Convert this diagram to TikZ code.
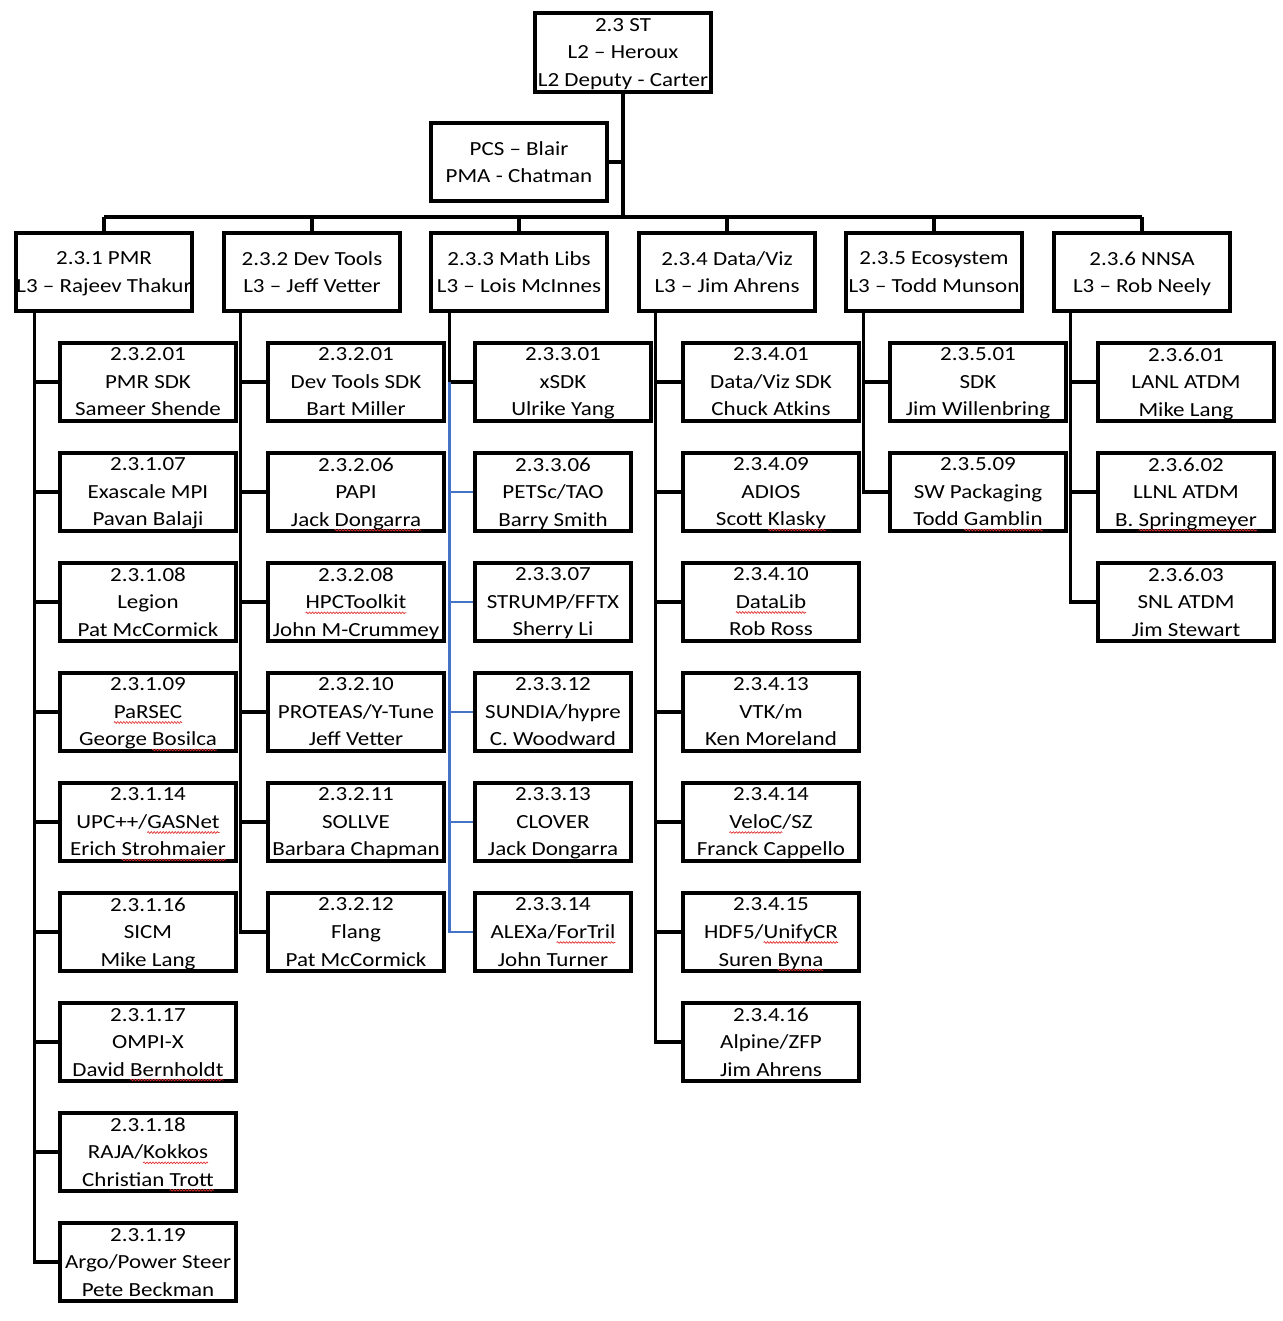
\documentclass[tikz,border=0pt]{standalone}
\usepackage{fontspec}
\setmainfont[FakeStretch=1.15]{Carlito}
\usetikzlibrary{decorations.pathmorphing}
\definecolor{wavered}{HTML}{E03030}
\definecolor{lineblue}{HTML}{4472C4}
\newdimen\sqw
\newcommand\sq[1]{\setbox0=\hbox{#1}\sqw=\wd0 \copy0\kern-\sqw
  \tikz[overlay,baseline=0pt,x=1pt,y=1pt]\draw[line width=0.7pt,wavered,decorate,
    decoration={snake,amplitude=0.8pt,segment length=3pt}] (0pt,-4pt) -- (\the\sqw,-4pt);\kern\sqw}
\begin{document}
\begin{tikzpicture}[x=1pt,y=-1pt,
  box/.style={draw,line width=3.5pt,minimum width=176pt,minimum height=78pt,inner sep=0pt,align=center,
    text depth=0pt,font=\fontsize{20}{27.5}\selectfont},
  nbox/.style={box,minimum width=156pt},
  conn/.style={line width=3.2pt},
  bconn/.style={line width=2.5pt,lineblue}]
\useasboundingbox (0,0) rectangle (1282,1321);
% top
\node[box,minimum height=79pt] (top) at (623,52.5) {2.3 ST\\L2 -- Heroux\\L2 Deputy - Carter};
\node[box] (pcs) at (519,162) {PCS -- Blair\\PMA - Chatman};
% L3
\node[box] (l31) at (104,272) {2.3.1 PMR\\L3 -- Rajeev Thakur};
\node[box] (l32) at (312,272) {2.3.2 Dev Tools\\L3 -- Jeff Vetter};
\node[box] (l33) at (519,272) {2.3.3 Math Libs\\L3 -- Lois McInnes};
\node[box] (l34) at (727,272) {2.3.4 Data/Viz\\L3 -- Jim Ahrens};
\node[box] (l35) at (934,272) {2.3.5 Ecosystem\\L3 -- Todd Munson};
\node[box] (l36) at (1142,272) {2.3.6 NNSA\\L3 -- Rob Neely};
% column 1
\node[box] (p11) at (148,382) {2.3.2.01\\PMR SDK\\Sameer Shende};
\node[box] (p12) at (148,492) {2.3.1.07\\Exascale MPI\\Pavan Balaji};
\node[box] (p13) at (148,602) {2.3.1.08\\Legion\\Pat McCormick};
\node[box] (p14) at (148,712) {2.3.1.09\\\sq{PaRSEC}\\George \sq{Bosilca}};
\node[box] (p15) at (148,822) {2.3.1.14\\UPC++/\sq{GASNet}\\Erich \sq{Strohmaier}};
\node[box] (p16) at (148,932) {2.3.1.16\\SICM\\Mike Lang};
\node[box] (p17) at (148,1042) {2.3.1.17\\OMPI-X\\David \sq{Bernholdt}};
\node[box] (p18) at (148,1152) {2.3.1.18\\RAJA/\sq{Kokkos}\\Christian \sq{Trott}};
\node[box] (p19) at (148,1262) {2.3.1.19\\Argo/Power Steer\\Pete Beckman};
% column 2
\node[box] (p21) at (356,382) {2.3.2.01\\Dev Tools SDK\\Bart Miller};
\node[box] (p22) at (356,492) {2.3.2.06\\PAPI\\Jack \sq{Dongarra}};
\node[box] (p23) at (356,602) {2.3.2.08\\\sq{HPCToolkit}\\John M-Crummey};
\node[box] (p24) at (356,712) {2.3.2.10\\PROTEAS/Y-Tune\\Jeff Vetter};
\node[box] (p25) at (356,822) {2.3.2.11\\SOLLVE\\Barbara Chapman};
\node[box] (p26) at (356,932) {2.3.2.12\\Flang\\Pat McCormick};
% column 3
\node[box] (p31) at (563,382) {2.3.3.01\\xSDK\\Ulrike Yang};
\node[nbox] (p32) at (553,492) {2.3.3.06\\PETSc/TAO\\Barry Smith};
\node[nbox] (p33) at (553,602) {2.3.3.07\\STRUMP/FFTX\\Sherry Li};
\node[nbox] (p34) at (553,712) {2.3.3.12\\SUNDIA/hypre\\C. Woodward};
\node[nbox] (p35) at (553,822) {2.3.3.13\\CLOVER\\Jack Dongarra};
\node[nbox] (p36) at (553,932) {2.3.3.14\\ALEXa/\sq{ForTril}\\John Turner};
% column 4
\node[box] (p41) at (771,382) {2.3.4.01\\Data/Viz SDK\\Chuck Atkins};
\node[box] (p42) at (771,492) {2.3.4.09\\ADIOS\\Scott \sq{Klasky}};
\node[box] (p43) at (771,602) {2.3.4.10\\\sq{DataLib}\\Rob Ross};
\node[box] (p44) at (771,712) {2.3.4.13\\VTK/m\\Ken Moreland};
\node[box] (p45) at (771,822) {2.3.4.14\\\sq{VeloC}/SZ\\Franck Cappello};
\node[box] (p46) at (771,932) {2.3.4.15\\HDF5/\sq{UnifyCR}\\Suren \sq{Byna}};
\node[box] (p47) at (771,1042) {2.3.4.16\\Alpine/ZFP\\Jim Ahrens};
% column 5
\node[box] (p51) at (978,382) {2.3.5.01\\SDK\\Jim Willenbring};
\node[box] (p52) at (978,492) {2.3.5.09\\SW Packaging\\Todd \sq{Gamblin}};
% column 6
\node[box] (p61) at (1186,382) {2.3.6.01\\LANL ATDM\\Mike Lang};
\node[box] (p62) at (1186,492) {2.3.6.02\\LLNL ATDM\\B. \sq{Springmeyer}};
\node[box] (p63) at (1186,602) {2.3.6.03\\SNL ATDM\\Jim Stewart};
% trunk and bus
\coordinate (bus) at (623,217);
\draw[conn] (top.south) -- (bus);
\draw[conn] (top.south |- pcs.east) -- (pcs.east);
\draw[conn] (l31.north |- bus) -- (l36.north |- bus);
\foreach \n in {l31,l32,l33,l34,l35,l36} \draw[conn] (\n.north |- bus) -- (\n.north);
% column lines
\draw[conn] (l31.south west) ++(20,0) |- (p19.west);
\foreach \n in {p11,p12,p13,p14,p15,p16,p17,p18} \draw[conn] (\n.west) -- ++(-24,0);
\draw[conn] (l32.south west) ++(18,0) |- (p26.west);
\foreach \n in {p21,p22,p23,p24,p25} \draw[conn] (\n.west) -- ++(-26,0);
\draw[conn] (l33.south west) ++(20,0) |- (p31.west);
\draw[bconn] (p31.west) ++(-24,0) |- (p36.west);
\foreach \n in {p32,p33,p34,p35} \draw[bconn] (\n.west) -- ++(-24,0);
\draw[conn] (l34.south west) ++(18,0) |- (p47.west);
\foreach \n in {p41,p42,p43,p44,p45,p46} \draw[conn] (\n.west) -- ++(-26,0);
\draw[conn] (l35.south west) ++(19,0) |- (p52.west);
\draw[conn] (p51.west) -- ++(-25,0);
\draw[conn] (l36.south west) ++(18,0) |- (p63.west);
\foreach \n in {p61,p62} \draw[conn] (\n.west) -- ++(-26,0);
\end{tikzpicture}
\end{document}
